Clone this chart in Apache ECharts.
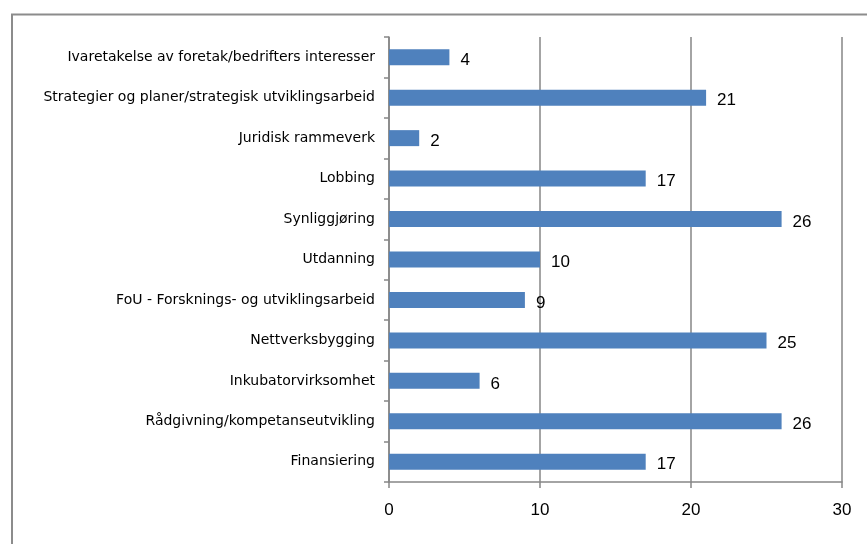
<!DOCTYPE html>
<html><head><meta charset="utf-8">
<script src="https://cdn.jsdelivr.net/npm/echarts@6/dist/echarts.min.js"></script>
<style>html,body{margin:0;padding:0;background:#fff}#c{width:867px;height:544px}</style>
</head><body><div id="c"></div>
<script>
const categories = ["Finansiering","Rådgivning/kompetanseutvikling","Inkubatorvirksomhet","Nettverksbygging","FoU - Forsknings- og utviklingsarbeid","Utdanning","Synliggjøring","Lobbing","Juridisk rammeverk","Strategier og planer/strategisk utviklingsarbeid","Ivaretakelse av foretak/bedrifters interesser"];
const values = [17,26,6,25,9,10,26,17,2,21,4];
const xTicks = {min:0,max:30,interval:10};
const chart = echarts.init(document.getElementById('c'));
chart.setOption({
  animation:false,
  graphic:[{type:'rect',shape:{x:12,y:14.5,width:900,height:600},style:{fill:'none',stroke:'#8c8c8c',lineWidth:2}}],
  grid:{left:389,right:25,top:37,bottom:62},
  xAxis:{type:'value',min:xTicks.min,max:xTicks.max,interval:xTicks.interval,
    axisLine:{show:true,lineStyle:{color:'#868686',width:1.5}},
    axisTick:{show:true,length:6,lineStyle:{color:'#868686',width:1.5}},
    axisLabel:{color:'#000',fontSize:17,fontFamily:'Liberation Sans',margin:20},
    splitLine:{show:true,lineStyle:{color:'#868686',width:1.5}}},
  yAxis:{type:'category',data:categories,
    axisLine:{show:true,lineStyle:{color:'#868686',width:1.5}},
    axisTick:{show:true,length:5,lineStyle:{color:'#868686',width:1.5}},
    axisLabel:{color:'#000',fontSize:14,fontFamily:'DejaVu Sans',margin:14}},
  series:[{type:'bar',data:values,barWidth:16,itemStyle:{color:'#4f81bd'},
    label:{show:true,position:'right',distance:11,offset:[0,3],color:'#000',fontSize:17,fontFamily:'Liberation Sans'}}]
});
</script></body></html>
